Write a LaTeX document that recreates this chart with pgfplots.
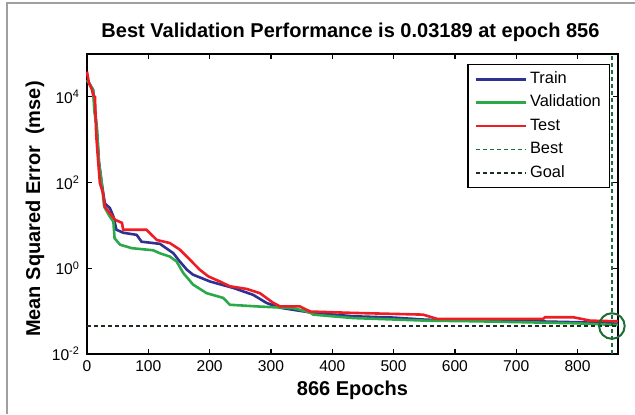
\documentclass[border=0pt]{standalone}
\usepackage{pgfplots}
\pgfplotsset{compat=1.18}
\usepackage{fontspec}
\setmainfont{Liberation Sans}

\definecolor{trainc}{HTML}{2E3192}
\definecolor{valc}{HTML}{2BA84A}
\definecolor{testc}{HTML}{EE1D23}
\definecolor{bestc}{HTML}{1B6E3A}
\definecolor{goalc}{HTML}{1F2D1F}
\definecolor{circc}{HTML}{1E6B35}

\begin{document}
\begin{tikzpicture}[x=1pt,y=1pt]
  \useasboundingbox (0,0) rectangle (317.5,207);
  % outer frame (top and left edges only visible)
  \draw[gray!75, line width=1pt] (3.5,0) -- (3.5,205.5) -- (317.5,205.5);

  \begin{axis}[
      at={(43.5pt,30pt)}, anchor=south west,
      scale only axis, width=265.5pt, height=150pt,
      xmin=0, xmax=866,
      ymode=log, ymin=1e-2, ymax=1e5,
      xtick={0,100,...,800},
      ytick={1e-2,1,1e2,1e4},
      yticklabels={10\textsuperscript{-2},10\textsuperscript{0},10\textsuperscript{2},10\textsuperscript{4}},
      yminorticks=false,
      tick align=inside, xtick pos=both, ytick pos=both,
      major tick length=2.5pt,
      axis line style={line width=0.6pt},
      tick style={black, line width=0.6pt},
      /pgf/number format/assume math mode=true,
      tick label style={font=\fontsize{7.8}{9}\selectfont},
      every axis title shift=0pt,
      title={Best Validation Performance is 0.03189 at epoch 856},
      title style={at={(axis description cs:0.5,1)}, anchor=base,
                   yshift=8.5pt, xshift=-1pt,
                   font=\bfseries\fontsize{10}{12}\selectfont},
      xlabel={866 Epochs},
      xlabel style={at={(axis description cs:0.5,-0.12)}, anchor=center,
                    font=\bfseries\fontsize{10}{12}\selectfont},
      ylabel={Mean Squared Error\ \ (mse)},
      ylabel style={at={(axis description cs:-0.098,0.483)}, anchor=center,
                    font=\bfseries\fontsize{10}{12}\selectfont},
      legend style={at={(axis description cs:0.985,0.967)}, anchor=north east,
                    draw=black, line width=0.6pt, fill=white,
                    font=\fontsize{8.2}{10}\selectfont,
                    inner xsep=3.5pt, inner ysep=2.7pt,
                    row sep=2.4pt, column sep=0.4pt,
                    nodes={inner sep=0.8pt, text height=6pt, text depth=1.7pt}},
      legend cell align=left,
      legend image code/.code={\draw[#1] plot coordinates {(0pt,0pt) (12.5pt,0pt) (25pt,0pt)};},
      clip=false,
    ]
    % Train
    \addplot[trainc, line width=1.3pt] coordinates {
      (0,24500) (3,21400) (10,14450) (16,1862) (19.5,309) (24,97.7) (29,33.1)
      (37.5,25.1) (43,16.2) (48,7.94) (59,6.76) (81,6.03) (89,4.17) (119,3.72)
      (141,2.24) (149,1.58) (163,0.923) (173,0.708) (201,0.490) (239,0.347)
      (271,0.240) (293,0.155) (315,0.120) (369,0.091) (434,0.076) (498,0.071)
      (554,0.063) (728,0.058) (804,0.055) (866,0.051)
    };
    % Validation
    \addplot[valc, line width=1.3pt] coordinates {
      (0,24500) (3,21400) (10,14450) (12,4571) (16,1862) (19.5,282) (24,97.7)
      (28,27.5) (37,16.2) (43,12.3) (45,5.01) (54,3.55) (73,2.95) (108,2.63)
      (119,2.24) (135,1.88) (146,1.45) (157,0.776) (173,0.417) (195,0.263)
      (222,0.204) (233,0.141) (277,0.129) (337,0.117) (364,0.093) (369,0.083)
      (434,0.069) (554,0.060) (635,0.058) (800,0.052) (856,0.048) (866,0.048)
    };
    % Test
    \addplot[testc, line width=1.3pt] coordinates {
      (0,38900) (3,21400) (8,14800) (10,11000) (13,10000) (15,1290) (18,339)
      (21,97.7) (26,57.5) (29,27.5) (37,19.5) (46,13.5) (57,11.5) (59,7.94)
      (97,7.94) (114,4.57) (135,3.89) (152,2.69) (168,1.58) (184,0.923)
      (198,0.646) (217,0.490) (233,0.380) (260,0.331) (282,0.263) (304,0.155)
      (315,0.129) (347,0.129) (364,0.098) (434,0.091) (548,0.083) (571,0.066)
      (744,0.066) (747,0.072) (793,0.072) (821,0.060) (866,0.058)
    };
    % Best
    \addplot[bestc, line width=0.8pt, dash pattern=on 2pt off 1.5pt]
      coordinates {(856,1e-2) (856,1e5)};
    % Goal
    \addplot[goalc, line width=1pt, dash pattern=on 2pt off 1.5pt]
      coordinates {(0,0.044) (866,0.044)};
    % best point marker
    \addplot[circc, only marks, mark=o, mark size=6.4pt,
             mark options={line width=1pt}, forget plot]
      coordinates {(856,0.045)};
    \legend{Train,Validation,Test,Best,Goal}
  \end{axis}
\end{tikzpicture}
\end{document}
